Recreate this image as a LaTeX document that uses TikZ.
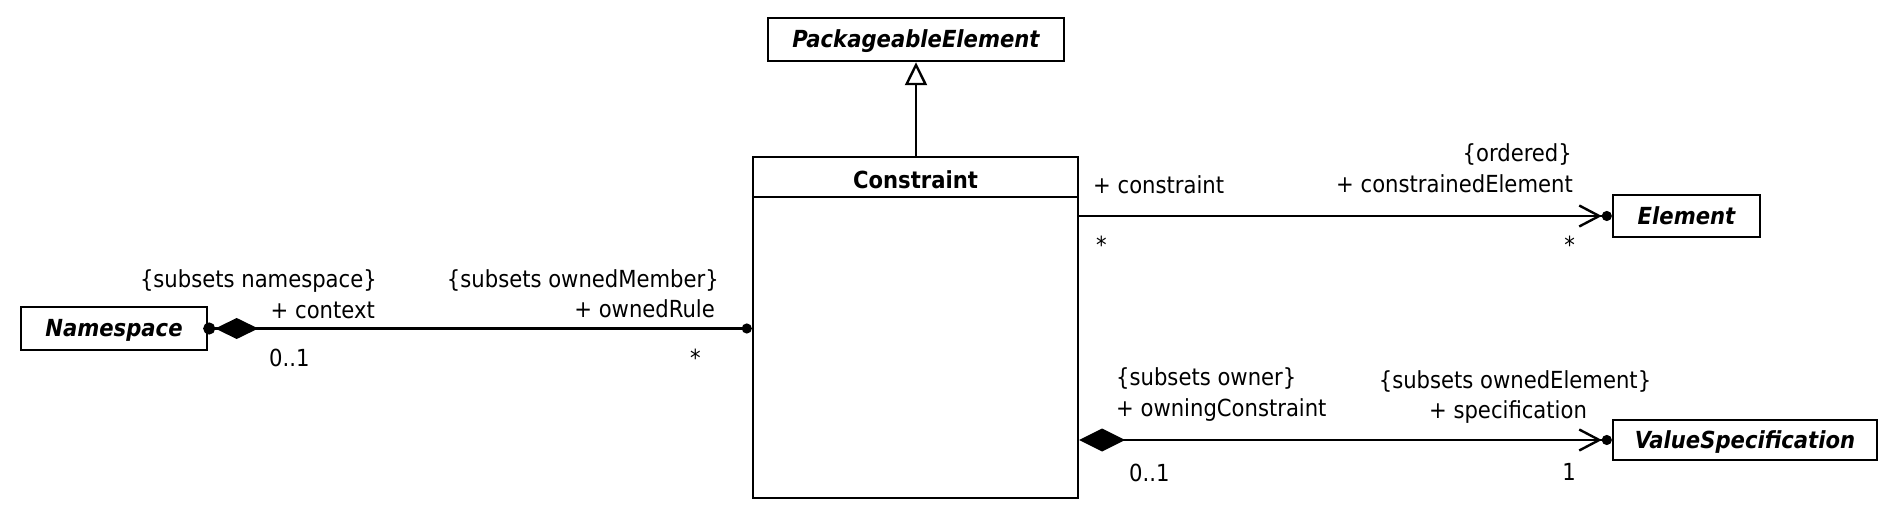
\documentclass[tikz,border=0pt]{standalone}
\usepackage{fontspec}
\setmainfont{DejaVuSansCondensed}[
  Extension=.ttf,
  BoldFont=*-Bold,
  ItalicFont=*-Oblique,
  BoldItalicFont=*-BoldOblique]
\usepackage{tikz}
\usetikzlibrary{
  arrows.meta,%
  calc,%
  positioning
}
\newcommand{\umlfont}{\fontsize{23.5}{28}\selectfont}
\tikzset{font=\umlfont}
\tikzset{classbox/.style={draw, inner sep=0pt, text height=17pt, text depth=0pt,
    font=\umlfont\bfseries\itshape}}
\tikzset{role/.style={inner sep=0pt}}
% ends of the associations
\tikzset{
  owned/.tip={Straight Barb[length=20pt,width=21pt,sep=0pt]Circle[length=10pt]},
  compose/.tip={Diamond[length=46pt,width=23pt]},
  gen/.tip={Triangle[open,length=23pt,width=22pt,fill=white]}
}

\begin{document}
\begin{tikzpicture}[x=1pt,y=-1pt,line width=2.4pt]
  \useasboundingbox (0,0) rectangle (1894,518);
  % classes
  \node[classbox, minimum width=296pt, minimum height=43pt] (pkgel) at (916,39.5) {PackageableElement};
  \node[draw, minimum width=325pt, minimum height=341pt] (cons) at (915.5,327.5) {};
  \node[anchor=base, font=\umlfont\bfseries] (constitle) at (915.5,189) {Constraint};
  \draw (cons.north west) ++(0,41) -- ++(327,0);
  \node[classbox, minimum width=186pt, minimum height=43pt] (ns) at (114,328.5) {Namespace};
  \node[classbox, minimum width=147pt, minimum height=42pt] (elem) at (1686.5,216) {Element};
  \node[classbox, minimum width=264pt, minimum height=40pt] (valspec) at (1745,440) {ValueSpecification};

  % connectors
  \draw[-gen] (cons.north -| pkgel.south) -- (pkgel.south);
  \draw[{Circle[length=12pt,sep=-5pt]Diamond[length=43pt,width=21pt]}-{Circle[length=10pt]}]
    (ns.east) -- (ns.east -| cons.west);
  \draw[-owned] (cons.east |- elem.west) -- (elem.west);
  \draw[compose-owned] (cons.east |- valspec.west) -- (valspec.west);

  % role names and multiplicities
  \node[role, anchor=base east] (ctxsub) at (378,288) {\{subsets namespace\}};
  \node[role, anchor=base east] (ctxname) at (376,319) {+ context};
  \node[role, anchor=base west] (ctxmult) at (268,366) {0..1};
  \node[role, anchor=base east] (rulesub) at (720,288) {\{subsets ownedMember\}};
  \node[role, anchor=base east] (rulename) at (716,318) {+ ownedRule};
  \node[role, anchor=base east] (rulemult) at (702,366) {*};

  \node[role, anchor=base west] (consname) at (1092,194) {+ constraint};
  \node[role, anchor=base west] (consmult) at (1095,254) {*};
  \node[role, anchor=base east] (elord) at (1573,162) {\{ordered\}};
  \node[role, anchor=base east] (elname) at (1574,193) {+ constrainedElement};
  \node[role, anchor=base east] (elmult) at (1576,254) {*};

  \node[role, anchor=base west] (ownsub) at (1115,385) {\{subsets owner\}};
  \node[role, anchor=base west] (ownname) at (1115,416) {+ owningConstraint};
  \node[role, anchor=base west] (ownmult) at (1128,481) {0..1};
  \node[role, anchor=base] (specsub) at (1515,388) {\{subsets ownedElement\}};
  \node[role, anchor=base] (specname) at (1508,418) {+ specification};
  \node[role, anchor=base east] (specmult) at (1577,480) {1};
\end{tikzpicture}
\end{document}
